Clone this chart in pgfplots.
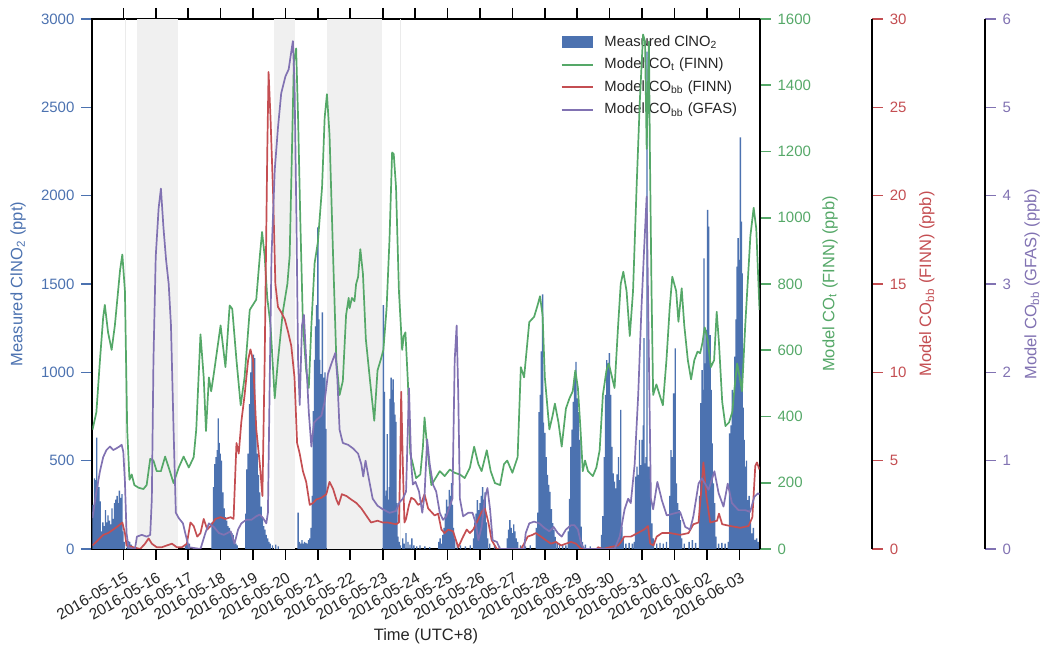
\documentclass[border=0pt]{standalone}
\usepackage{fontspec}
\setmainfont{Liberation Sans}
\usepackage{pgfplots}
\usepackage{pgfplotstable}
\pgfplotsset{compat=1.18}
\definecolor{cblue}{HTML}{4C72B0}
\definecolor{cgreen}{HTML}{55A868}
\definecolor{cred}{HTML}{C44E52}
\definecolor{cpurple}{HTML}{8172B2}
\definecolor{cshade}{HTML}{F0F0F0}
\definecolor{ctext}{HTML}{262626}

% time t in days since 2016-05-15 00:00 (UTC+8)
\pgfplotstableread{
t v
-0.93 250
-0.89 400
-0.85 390
-0.82 630
-0.79 380
-0.75 350
-0.71 270
-0.67 100
-0.63 150
-0.59 130
-0.55 220
-0.51 150
-0.47 190
-0.43 160
-0.39 140
-0.35 230
-0.31 170
-0.27 260
-0.23 280
-0.19 300
-0.15 260
-0.12 330
-0.08 290
-0.04 310
-0.01 100
0.03 40
0.12 35
0.16 45
0.20 40
0.25 25
1.92 20
1.96 30
2.00 25
2.04 30
2.74 150
2.78 350
2.82 480
2.86 520
2.90 560
2.93 740
2.96 600
2.99 540
3.03 500
3.07 320
3.11 230
3.15 180
3.19 160
3.23 130
3.27 120
3.31 100
3.35 90
3.39 80
3.43 50
3.47 30
3.51 20
3.78 200
3.81 450
3.85 540
3.89 820
3.93 1000
3.97 1090
4.01 1100
4.05 1080
4.09 730
4.13 540
4.17 420
4.21 320
4.25 240
4.29 180
4.33 130
4.37 110
4.41 80
4.45 60
4.49 40
4.53 30
4.60 20
4.70 25
4.78 15
5.39 206
5.43 40
5.47 30
5.51 50
5.55 30
5.59 40
5.63 35
5.67 30
5.71 50
5.75 60
5.79 120
5.83 300
5.86 780
5.90 1070
5.93 1260
5.96 1380
6.00 1820
6.03 1300
6.06 1070
6.10 990
6.14 1340
6.18 970
6.22 1000
6.25 680
8.02 1380
8.05 890
8.08 300
8.11 330
8.14 650
8.17 280
8.20 350
8.23 850
8.26 970
8.29 900
8.32 960
8.35 830
8.38 760
8.41 720
8.44 260
8.47 70
8.51 40
8.55 20
8.62 60
8.66 30
8.72 90
8.78 40
8.84 25
8.90 60
8.96 20
9.05 15
9.15 20
9.30 15
9.45 10
9.73 40
9.77 60
9.81 30
9.85 80
9.89 120
9.93 200
9.97 280
10.01 240
10.05 334
10.09 300
10.12 373
10.15 250
10.18 120
10.22 60
10.30 30
10.40 20
10.55 15
10.70 20
10.80 60
10.84 150
10.88 200
10.92 277
10.96 220
11.00 260
11.04 300
11.08 350
11.12 280
11.16 320
11.20 150
11.24 60
11.30 30
11.45 20
11.60 15
11.84 60
11.88 110
11.92 164
11.96 120
12.00 90
12.04 140
12.08 100
12.12 60
12.16 40
12.25 20
12.40 15
12.55 20
12.74 120
12.78 206
12.82 775
12.86 873
12.89 1118
12.93 1441
12.96 716
13.00 657
13.04 520
13.08 420
13.12 363
13.16 324
13.20 226
13.24 147
13.28 108
13.32 69
13.38 40
13.45 30
13.55 25
13.65 20
13.72 100
13.76 284
13.80 578
13.84 676
13.88 833
13.92 971
13.96 1059
14.00 853
14.04 775
14.08 618
14.12 127
14.16 40
14.25 25
14.40 15
14.75 80
14.79 186
14.83 520
14.87 873
14.91 1069
14.95 1051
14.99 1108
15.03 873
15.07 578
15.11 428
15.15 382
15.19 343
15.23 422
15.27 520
15.31 390
15.34 787
15.38 127
15.42 60
15.50 30
15.60 35
15.70 30
15.76 40
15.80 409
15.84 466
15.88 420
15.92 617
15.96 475
16.00 617
16.04 700
16.06 1193
16.09 485
16.12 520
16.15 2815
16.18 466
16.22 466
16.26 372
16.30 145
16.35 60
16.45 30
16.55 35
16.65 30
16.75 40
16.85 300
16.89 560
16.93 520
16.97 881
17.00 700
17.02 1136
17.06 372
17.10 259
17.14 220
17.18 164
17.22 60
17.30 30
17.45 40
17.55 50
17.65 35
17.77 300
17.81 825
17.85 1013
17.88 900
17.91 1645
17.94 1051
17.97 1240
18.00 1100
18.02 1919
18.05 1825
18.08 1051
18.10 1211
18.13 900
18.16 598
18.20 372
18.24 259
18.28 70
18.36 30
18.46 35
18.56 30
18.66 40
18.70 655
18.74 700
18.78 900
18.82 850
18.86 1089
18.90 1300
18.93 1598
18.96 1759
18.99 1636
19.03 2330
19.06 1853
19.09 1560
19.12 800
19.15 617
19.18 466
19.22 500
19.26 277
19.30 300
19.34 150
19.38 89
19.43 120
19.48 51
19.53 60
19.58 40
}\bars

\pgfplotstableread{
t v
-0.95 360
-0.83 413
-0.72 570
-0.62 700
-0.57 737
-0.47 654
-0.36 601
-0.26 675
-0.10 842
-0.03 889
0.05 779
0.12 361
0.19 209
0.26 225
0.34 193
0.47 185
0.62 181
0.72 193
0.83 272
0.93 267
1.03 235
1.16 235
1.29 279
1.40 246
1.55 199
1.71 246
1.86 279
2.02 246
2.17 277
2.25 361
2.38 648
2.48 518
2.55 356
2.64 518
2.71 476
2.79 528
3.00 675
3.15 549
3.28 735
3.36 725
3.49 570
3.62 434
3.74 518
3.90 722
4.10 753
4.21 884
4.28 957
4.36 884
4.44 758
4.54 675
4.67 455
4.77 570
4.92 716
5.06 800
5.13 884
5.20 1197
5.26 1469
5.33 1511
5.39 1302
5.46 988
5.54 675
5.64 539
5.72 486
5.80 675
5.90 863
6.00 926
6.13 1093
6.21 1302
6.28 1373
6.36 1250
6.47 884
6.57 570
6.67 465
6.77 507
6.87 706
6.95 758
6.98 727
7.05 758
7.13 748
7.18 800
7.24 821
7.31 905
7.39 831
7.48 633
7.61 507
7.74 387
7.84 539
7.95 575
8.02 601
8.12 727
8.21 936
8.29 1197
8.34 1192
8.41 1093
8.50 779
8.60 601
8.65 643
8.70 654
8.78 497
8.85 288
8.93 256
9.03 214
9.16 225
9.24 309
9.29 397
9.37 309
9.50 193
9.60 209
9.76 235
9.91 220
10.07 240
10.22 230
10.38 225
10.53 214
10.69 246
10.82 309
10.95 256
11.05 235
11.21 298
11.33 235
11.46 199
11.62 193
11.74 256
11.84 267
12.00 230
12.16 277
12.26 549
12.36 518
12.52 685
12.67 701
12.78 737
12.85 763
12.93 706
13.00 518
13.14 361
13.24 403
13.31 439
13.42 382
13.52 309
13.65 424
13.76 455
13.86 476
13.94 539
14.02 486
14.10 361
14.17 235
14.24 267
14.33 235
14.48 220
14.59 246
14.69 298
14.79 465
14.90 539
14.97 560
15.05 528
15.15 486
15.26 675
15.34 800
15.42 837
15.52 779
15.62 643
15.72 779
15.83 1093
15.93 1354
16.03 1553
16.09 1532
16.14 1208
16.21 1532
16.24 1197
16.29 779
16.34 465
16.44 497
16.54 465
16.64 434
16.75 570
16.85 727
16.93 822
17.05 779
17.12 686
17.22 787
17.30 675
17.41 570
17.51 512
17.61 570
17.71 596
17.79 591
17.86 622
17.93 669
18.02 633
18.12 549
18.22 570
18.30 716
18.37 622
18.47 444
18.57 371
18.68 382
18.78 413
18.85 486
18.93 560
19.01 518
19.08 476
19.18 675
19.34 946
19.44 1030
19.52 967
19.62 722
}\green

\pgfplotstableread{
t v
-0.95 0.2
-0.78 0.5
-0.62 0.8
-0.47 0.9
-0.31 1.1
-0.16 1.3
-0.03 1.5
0.05 0.9
0.10 0.2
0.31 0.1
0.52 0.0
0.67 0.3
0.78 0.6
0.88 0.3
1.03 0.1
1.19 0.1
1.34 0.2
1.50 0.3
1.65 0.1
1.81 0.1
1.96 0.3
2.07 1.5
2.17 1.3
2.28 0.7
2.38 0.9
2.48 1.7
2.59 1.1
2.69 1.3
2.84 1.7
3.00 1.8
3.15 1.7
3.31 1.8
3.40 1.7
3.49 6.0
3.56 5.4
3.64 7.2
3.74 8.7
3.85 10.7
3.92 11.3
4.00 10.7
4.10 6.8
4.21 4.8
4.29 3.0
4.36 10.7
4.44 22.5
4.48 27.0
4.54 24.4
4.62 20.1
4.69 15.0
4.77 13.7
4.87 13.4
4.98 13.0
5.08 12.3
5.18 11.5
5.28 9.7
5.36 6.0
5.44 5.4
5.54 4.4
5.64 3.8
5.75 2.5
5.85 2.6
5.95 2.8
6.11 2.9
6.26 3.1
6.36 3.8
6.47 3.4
6.57 2.8
6.64 2.5
6.74 3.1
6.88 3.0
7.03 2.8
7.19 2.6
7.34 2.3
7.49 1.9
7.64 1.5
7.84 1.6
8.00 1.5
8.16 1.5
8.41 1.4
8.50 1.5
8.54 4.8
8.57 8.9
8.62 4.8
8.67 1.5
8.72 1.7
8.81 2.5
8.88 2.9
8.98 2.8
9.09 2.5
9.19 2.6
9.29 3.1
9.40 2.3
9.50 2.1
9.60 1.9
9.71 2.0
9.81 1.1
9.91 0.9
10.02 1.1
10.17 1.0
10.33 0.1
10.48 0.7
10.59 1.1
10.69 0.9
10.79 1.1
10.90 1.5
11.05 2.1
11.15 2.3
11.26 1.5
11.36 0.5
11.52 0.0
12.26 0.0
12.36 0.3
12.47 0.7
12.62 0.8
12.72 0.9
12.88 0.7
13.03 0.5
13.19 0.3
13.34 0.4
13.50 0.2
13.65 0.3
13.81 0.4
13.96 0.3
14.12 0.0
14.60 0.0
14.64 0.1
14.79 0.0
15.00 0.1
15.26 0.2
15.35 0.4
15.45 0.7
15.65 0.7
15.86 0.9
16.06 1.1
16.18 1.3
16.25 0.3
16.35 0.2
16.45 0.7
16.61 0.9
16.87 0.9
17.17 0.8
17.43 0.9
17.58 1.4
17.74 1.5
17.84 3.7
17.89 4.9
17.98 3.0
18.10 1.5
18.31 1.6
18.37 2.0
18.47 1.4
18.72 1.3
19.03 1.2
19.28 1.3
19.40 1.8
19.49 4.7
19.54 4.9
19.62 4.5
}\red

\pgfplotstableread{
t v
-0.95 0.35
-0.83 0.65
-0.72 0.88
-0.62 1.04
-0.52 1.12
-0.41 1.16
-0.31 1.12
-0.21 1.14
-0.12 1.16
-0.05 1.18
0.00 1.10
0.05 0.76
0.10 0.18
0.16 0.02
0.36 0.00
0.42 0.14
0.57 0.16
0.72 0.14
0.83 0.16
0.88 0.57
0.93 2.14
1.00 3.31
1.09 3.86
1.16 4.08
1.24 3.63
1.32 3.27
1.40 3.00
1.47 2.53
1.55 1.35
1.62 0.41
1.71 0.35
1.84 0.29
1.91 0.18
2.02 0.02
2.38 0.00
2.53 0.18
2.64 0.29
2.79 0.25
2.95 0.18
3.10 0.16
3.31 0.20
3.43 0.06
3.54 0.22
3.64 0.29
3.79 0.33
3.95 0.33
4.10 0.37
4.21 0.39
4.31 0.35
4.41 0.29
4.46 0.41
4.51 1.75
4.57 3.31
4.67 4.29
4.77 4.77
4.87 5.16
5.00 5.35
5.10 5.43
5.18 5.63
5.23 5.75
5.28 5.28
5.34 3.71
5.39 2.14
5.44 1.63
5.51 2.53
5.57 2.65
5.64 2.14
5.72 1.55
5.80 1.16
5.88 1.43
5.98 1.47
6.11 1.51
6.21 1.67
6.31 1.98
6.42 2.10
6.54 2.22
6.60 1.94
6.67 1.35
6.77 1.20
6.93 1.18
7.08 1.14
7.24 1.08
7.34 0.96
7.40 0.82
7.47 1.00
7.57 0.80
7.69 0.57
7.84 0.49
8.00 0.45
8.21 0.41
8.41 0.43
8.52 0.53
8.62 0.57
8.72 0.65
8.81 1.82
8.88 0.96
8.93 0.73
9.01 0.76
9.12 0.65
9.22 0.41
9.29 0.61
9.37 1.24
9.45 0.96
9.55 0.73
9.65 0.65
9.76 0.41
9.86 0.33
9.96 0.37
10.07 0.49
10.15 0.57
10.22 2.14
10.28 2.53
10.33 1.75
10.38 0.57
10.48 0.37
10.64 0.41
10.77 0.41
10.87 0.29
10.95 0.10
11.05 0.25
11.15 0.57
11.23 0.69
11.31 0.45
11.39 0.10
11.52 0.08
11.62 0.00
12.36 0.00
12.41 0.18
12.52 0.29
12.67 0.31
12.83 0.29
12.98 0.24
13.14 0.20
13.27 0.25
13.40 0.18
13.52 0.14
13.65 0.22
13.81 0.27
13.91 0.27
14.02 0.22
14.12 0.06
14.22 0.00
15.15 0.00
15.31 0.14
15.46 0.45
15.57 0.57
15.65 0.52
15.77 0.96
15.88 1.75
15.98 2.73
16.06 3.38
16.14 3.99
16.21 2.14
16.27 0.57
16.34 0.45
16.47 0.76
16.61 0.55
16.76 0.38
16.96 0.40
17.17 0.42
17.33 0.25
17.48 0.22
17.58 0.37
17.74 0.74
17.84 0.80
17.94 0.74
18.05 0.67
18.23 0.88
18.36 0.63
18.51 0.48
18.64 0.74
18.77 0.52
18.97 0.44
19.18 0.44
19.33 0.42
19.46 0.59
19.57 0.63
19.62 0.62
}\purple

\pgfplotsset{
  base/.style={
    scale only axis, width=333.5pt, height=265pt,
    at={(0pt,0pt)}, anchor=south west,
    xmin=-0.95, xmax=19.62,
    /pgf/number format/assume math mode=true,
    /pgf/number format/1000 sep={},
    scaled y ticks=false,
    tick label style={font=\fontsize{7.5}{9}\selectfont},
    label style={font=\fontsize{8.25}{10}\selectfont},
    major tick length=5.5pt, tick align=outside,
    axis line style={black, line width=1pt},
  },
  scaleaxis/.style={
    scale only axis, width=1pt, height=265pt,
    anchor=south west, xmin=0, xmax=1,
    /pgf/number format/assume math mode=true,
    tick label style={font=\fontsize{7.5}{9}\selectfont},
    label style={font=\fontsize{8.25}{10}\selectfont},
    major tick length=5.5pt, tick align=outside,
    hide x axis, axis y line*=right,
    axis line style={black, line width=1pt},
  },
}

\begin{document}
\begin{tikzpicture}
\path[use as bounding box] (-46.25pt,-51pt) rectangle (475.25pt,274.5pt);

% main axis: measured ClNO2 bars
\begin{axis}[base,
  ymin=0, ymax=3000, ytick={0,500,...,3000},
  xtick={0,1,...,19},
  xticklabels={2016-05-15,2016-05-16,2016-05-17,2016-05-18,2016-05-19,2016-05-20,2016-05-21,2016-05-22,2016-05-23,2016-05-24,2016-05-25,2016-05-26,2016-05-27,2016-05-28,2016-05-29,2016-05-30,2016-05-31,2016-06-01,2016-06-02,2016-06-03},
  xtick pos=both, xticklabel pos=lower, ytick pos=left,
  xticklabel style={rotate=30, anchor=north east, inner sep=1.5pt, text=ctext,
    yshift=-3.5pt, xshift=-1pt, font=\fontsize{7.75}{9}\selectfont},
  yticklabel style={text=cblue},
  x tick style={black, line width=0.8pt},
  y tick style={cblue, line width=0.8pt},
  xlabel={Time (UTC+8)},
  xlabel style={at={(axis description cs:0.5,-0.1655)}, anchor=center, text=ctext},
  ylabel={Measured ClNO\textsubscript{2} (ppt)},
  ylabel style={at={(axis description cs:-0.1117,0.5)}, anchor=center, text=cblue},
  legend cell align=left,
  legend style={at={(0.982,0.985)}, anchor=north east, draw=none, fill=none,
    font=\fontsize{7.4}{8.5}\selectfont, text=ctext, row sep=0.4pt,
    /tikz/every odd column/.append style={column sep=3.5pt}},
  legend image code/.code={\draw[#1] (0pt,0pt) -- (15.5pt,0pt);},
]
\addplot[fill=cshade, draw=none, forget plot] coordinates {(0.42,3000) (1.70,3000)} \closedcycle;
\addplot[fill=cshade, draw=none, forget plot] coordinates {(4.65,3000) (5.30,3000)} \closedcycle;
\addplot[fill=cshade, draw=none, forget plot] coordinates {(6.28,3000) (7.99,3000)} \closedcycle;
\addplot[draw=black!8, line width=0.6pt, forget plot] coordinates {(0.08,0) (0.08,3000)};
\addplot[draw=black!8, line width=0.6pt, forget plot] coordinates {(8.54,0) (8.54,3000)};
\addplot[ybar, bar width=0.042, bar shift=0pt, fill=cblue, draw=none,
  legend image code/.code={\fill[cblue] (0pt,-3pt) rectangle (15.5pt,3pt);}]
  table[x=t, y=v] {\bars};
\addlegendentry{Measured ClNO\textsubscript{2}}
\addlegendimage{cgreen, line width=0.85pt}
\addlegendentry{Model CO\textsubscript{t} (FINN)}
\addlegendimage{cred, line width=0.85pt}
\addlegendentry{Model CO\textsubscript{bb} (FINN)}
\addlegendimage{cpurple, line width=0.85pt}
\addlegendentry{Model CO\textsubscript{bb} (GFAS)}
\end{axis}

% green: model CO_t (FINN), right axis at the frame
\begin{axis}[base,
  ymin=0, ymax=1600, ytick={0,200,...,1600},
  hide x axis, axis y line*=right,
  yticklabel style={text=cgreen},
  y tick style={cgreen, line width=0.8pt},
  ylabel={Model CO\textsubscript{t} (FINN) (ppb)},
  ylabel style={at={(axis description cs:1.1057,0.5)}, anchor=center, text=cgreen},
]
\addplot[cgreen, line width=0.85pt, line join=round] table[x=t, y=v] {\green};
\end{axis}

% red data axis (hidden)
\begin{axis}[base, ymin=0, ymax=30, hide axis]
\addplot[cred, line width=0.85pt, line join=round] table[x=t, y=v] {\red};
\end{axis}

% purple data axis (hidden)
\begin{axis}[base, ymin=0, ymax=6, hide axis]
\addplot[cpurple, line width=0.85pt, line join=round] table[x=t, y=v] {\purple};
\end{axis}

% offset scale for red
\begin{axis}[scaleaxis, at={(388.6pt,0pt)},
  ymin=0, ymax=30, ytick={0,5,...,30},
  yticklabel style={text=cred},
  y tick style={cred, line width=0.8pt},
  ylabel={Model CO\textsubscript{bb} (FINN) (ppb)},
  ylabel style={at={(axis description cs:28.65,0.5)}, anchor=center, text=cred},
]
\end{axis}

% offset scale for purple
\begin{axis}[scaleaxis, at={(445pt,0pt)},
  ymin=0, ymax=6, ytick={0,1,...,6},
  yticklabel style={text=cpurple},
  y tick style={cpurple, line width=0.8pt},
  ylabel={Model CO\textsubscript{bb} (GFAS) (ppb)},
  ylabel style={at={(axis description cs:24.75,0.5)}, anchor=center, text=cpurple},
]
\end{axis}
\end{tikzpicture}
\end{document}
